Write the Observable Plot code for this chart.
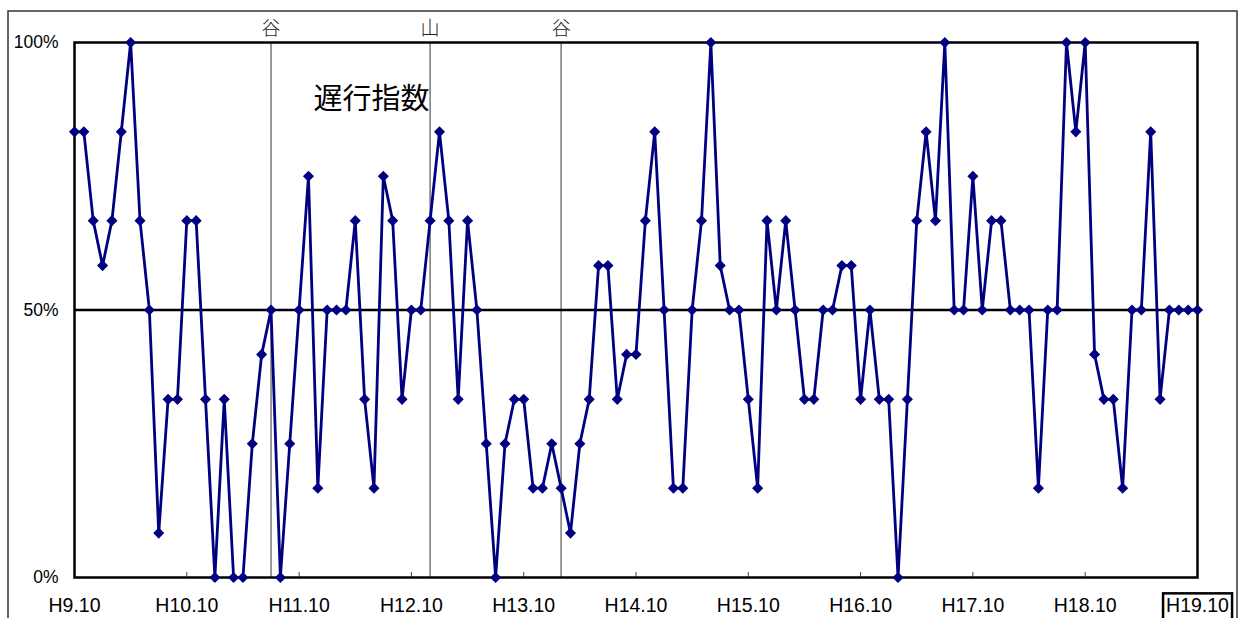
<!DOCTYPE html>
<html>
<head>
<meta charset="utf-8">
<script src="https://cdn.jsdelivr.net/npm/d3@7"></script>
<script src="https://cdn.jsdelivr.net/npm/@observablehq/plot@0.6"></script>
<style>
  html, body { margin: 0; padding: 0; background: #fff; }
  #chart { width: 1240px; height: 618px; overflow: hidden; }
</style>
</head>
<body>
<div id="chart"></div>
<script>
// Monthly diffusion index (%), H9.10 .. H19.10
const values = [
  83.3, 83.3, 66.7, 58.3, 66.7, 83.3, 100, 66.7, 50, 8.3,
  33.3, 33.3, 66.7, 66.7, 33.3, 0, 33.3, 0, 0, 25,
  41.7, 50, 0, 25, 50, 75, 16.7, 50, 50, 50,
  66.7, 33.3, 16.7, 75, 66.7, 33.3, 50, 50, 66.7, 83.3,
  66.7, 33.3, 66.7, 50, 25, 0, 25, 33.3, 33.3, 16.7,
  16.7, 25, 16.7, 8.3, 25, 33.3, 58.3, 58.3, 33.3, 41.7,
  41.7, 66.7, 83.3, 50, 16.7, 16.7, 50, 66.7, 100, 58.3,
  50, 50, 33.3, 16.7, 66.7, 50, 66.7, 50, 33.3, 33.3,
  50, 50, 58.3, 58.3, 33.3, 50, 33.3, 33.3, 0, 33.3,
  66.7, 83.3, 66.7, 100, 50, 50, 75, 50, 66.7, 66.7,
  50, 50, 50, 16.7, 50, 50, 100, 83.3, 100, 41.7,
  33.3, 33.3, 16.7, 50, 50, 83.3, 33.3, 50, 50, 50,
  50
];
const tickIndex = [0, 12, 24, 36, 48, 60, 72, 84, 96, 108, 120];
const tickLabels = ["H9.10", "H10.10", "H11.10", "H12.10", "H13.10", "H14.10",
                    "H15.10", "H16.10", "H17.10", "H18.10", "H19.10"];
const turnIndex = [21, 38, 52];
const turnLabels = ["谷", "山", "谷"];
const yTicks = [0, 50, 100];
const yLabels = ["0%", "50%", "100%"];
const seriesName = "遅行指数";

const data = values.map((v, i) => ({i, v}));
const cjk = "'Noto Sans CJK JP', 'Noto Sans', sans-serif";
const latin = "'Liberation Sans', Arial, sans-serif";

const chart = Plot.plot({
  width: 1240,
  height: 618,
  marginLeft: 74,
  marginRight: 43,
  marginTop: 42,
  marginBottom: 41,
  x: {domain: [0, 120]},
  y: {domain: [0, 100]},
  style: {fontFamily: latin, background: "transparent", color: "#000"},
  marks: [
    Plot.ruleX(turnIndex, {stroke: "#808080", strokeWidth: 1.6}),
    Plot.text(turnIndex, {x: d => d, y: 100, text: (d, i) => turnLabels[i], dy: -14,
      fontSize: 19, fontWeight: 300, fill: "#222", fontFamily: cjk}),
    Plot.ruleY([50], {stroke: "#000", strokeWidth: 2.5}),
    Plot.ruleX(tickIndex.slice(1, -1), {stroke: "#444", strokeWidth: 1, insetTop: 530}),
    Plot.frame({stroke: "#000", strokeWidth: 2.5}),
    Plot.axisX(tickIndex, {tickSize: 0, tickPadding: 21, label: null, fontSize: 19.5,
      tickFormat: d => tickLabels[tickIndex.indexOf(d)]}),
    Plot.axisY(yTicks, {tickSize: 0, tickPadding: 16, label: null, fontSize: 17.5,
      tickFormat: d => yLabels[yTicks.indexOf(d)]}),
    Plot.line(data, {x: "i", y: "v", stroke: "#000080", strokeWidth: 2.8}),
    Plot.dot(data, {x: "i", y: "v", symbol: "diamond2", r: 5, fill: "#000080", stroke: "none"}),
    Plot.text([seriesName], {frameAnchor: "top-left", dx: 297, dy: 46, text: d => d,
      fontSize: 29, textAnchor: "middle", fill: "#000", fontFamily: cjk})
  ]
});

document.getElementById("chart").appendChild(chart);

// outer chart-area border
const svg = d3.select(chart);
svg.append("rect")
  .attr("x", 8).attr("y", 11).attr("width", 1229).attr("height", 700)
  .attr("fill", "none").attr("stroke", "#333").attr("stroke-width", 1.5);

// box around the last x label
const labels = chart.querySelectorAll('[aria-label="x-axis tick label"] text');
const last = labels[labels.length - 1];
if (last) {
  const bb = last.getBBox();
  const t = last.getAttribute("transform");
  const g = last.parentNode;
  d3.select(g).append("rect")
    .attr("transform", t)
    .attr("x", bb.x - 3).attr("y", bb.y - 1)
    .attr("width", bb.width + 6).attr("height", 40)
    .attr("fill", "none").attr("stroke", "#000").attr("stroke-width", 2.5);
}
</script>
</body>
</html>
